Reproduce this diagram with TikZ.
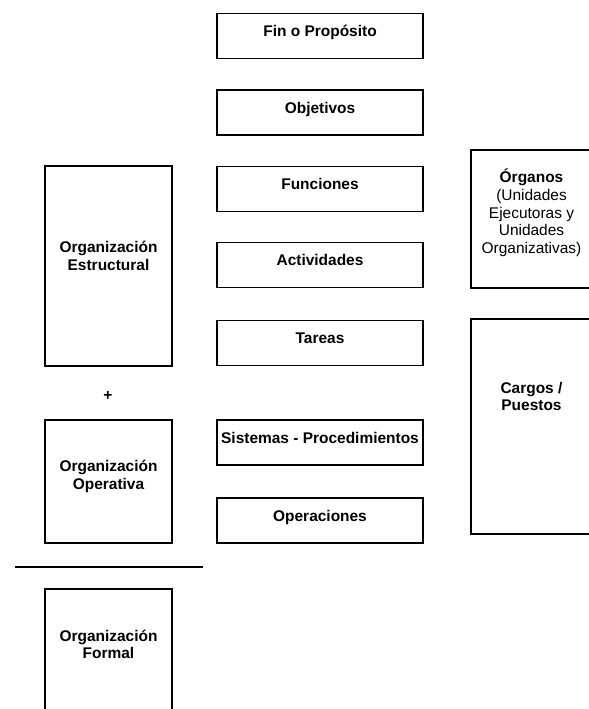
\documentclass[tikz,border=0pt]{standalone}
\usepackage{fontspec}
\setmainfont{Liberation Sans}

% text of a box, lifted a little above the middle of the box
\newcommand{\boxtext}[2]{\raisebox{#1}[\height][\depth]{\begin{tabular}{@{}c@{}}#2\end{tabular}}}

\begin{document}
\begin{tikzpicture}[
    txt/.style={font=\fontsize{11}{12.6}\selectfont\bfseries},
    box/.style={txt, draw, line width=1.3pt, inner sep=0pt},
    midbox/.style={box, minimum width=5.15cm, minimum height=1.125cm},
    leftbox/.style={box, minimum width=3.175cm},
    rightbox/.style={box, minimum width=3.025cm}
]
\path[use as bounding box, clip] (0,0) rectangle (14.725,17.725);

% Middle column: from purpose down to operations
\node[midbox] (fin) at (8, 16.825) {\boxtext{0.07cm}{Fin o Propósito}};
\node[midbox] (obj) at (8, 14.9125) {\boxtext{0.07cm}{Objetivos}};
\node[midbox] (fun) at (8, 13.0) {\boxtext{0.07cm}{Funciones}};
\node[midbox] (act) at (8, 11.1) {\boxtext{0.07cm}{Actividades}};
\node[midbox] (tar) at (8, 9.15) {\boxtext{0.07cm}{Tareas}};
\node[midbox] (sis) at (8, 6.6625) {\boxtext{0.07cm}{Sistemas - Procedimientos}};
\node[midbox] (ope) at (8, 4.7125) {\boxtext{0.07cm}{Operaciones}};

% Left column: structural + operative = formal
\node[leftbox, minimum height=5cm] (est) at (2.7125, 11.075)
    {\boxtext{0.2cm}{Organización\\Estructural}};
\node[txt] (plus) at (2.7, 7.825) {+};
\node[leftbox, minimum height=3.075cm] (opv) at (2.7125, 5.6875)
    {\boxtext{0.11cm}{Organización\\Operativa}};
\coordinate (barL) at (0.375, 3.55);
\coordinate (barR) at (5.075, 3.55);
\draw[line width=1.3pt] (barL) -- (barR);
\node[leftbox, minimum height=3.175cm] (for) at (2.7125, 1.4125)
    {\boxtext{0.15cm}{Organización\\Formal}};

% Right column: organs and posts (cut by the right edge)
\node[rightbox, minimum height=3.45cm, font=\fontsize{11}{12.6}\selectfont] (org) at (13.2875, 12.25)
    {\boxtext{0.125cm}{\textbf{Órganos}\\(Unidades\\Ejecutoras y\\Unidades\\Organizativas)}};
\node[rightbox, minimum height=5.375cm] (car) at (13.2875, 7.0625)
    {\boxtext{0.7cm}{Cargos /\\Puestos}};

\end{tikzpicture}
\end{document}
